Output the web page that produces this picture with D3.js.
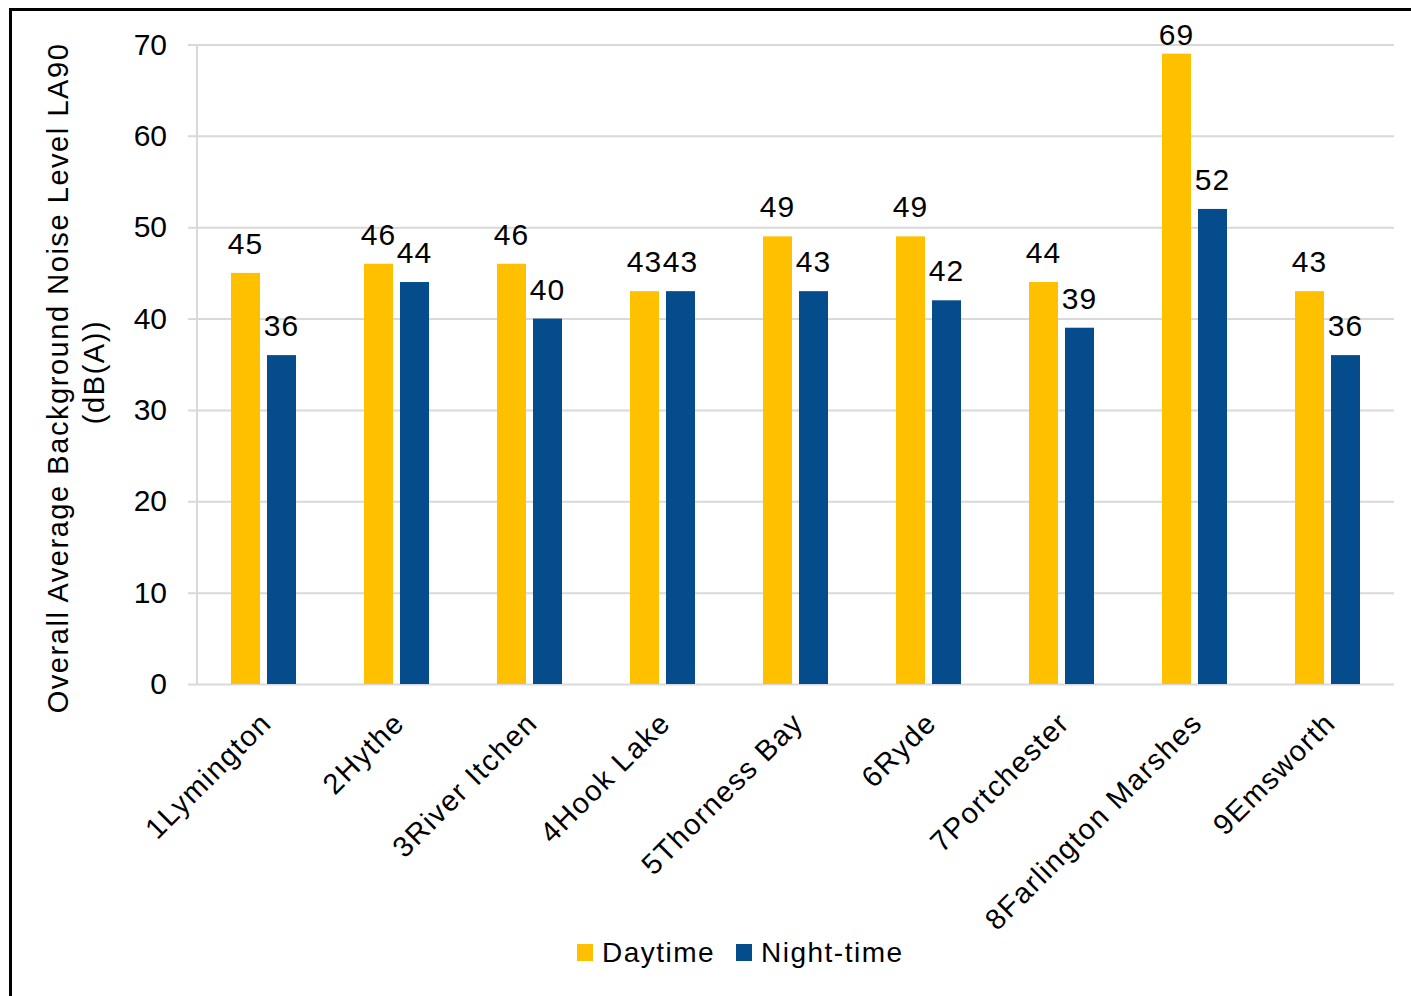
<!DOCTYPE html>
<html>
<head>
<meta charset="utf-8">
<script src="https://cdn.jsdelivr.net/npm/d3@7"></script>
<style>
  body { margin: 0; background: #fff; }
  text { font-family: "Liberation Sans", Arial, sans-serif; fill: #000; }
</style>
</head>
<body>
<script>
const categories = ["1Lymington", "2Hythe", "3River Itchen", "4Hook Lake", "5Thorness Bay",
  "6Ryde", "7Portchester", "8Farlington Marshes", "9Emsworth"];
const seriesNames = ["Daytime", "Night-time"];
const daytime = [45, 46, 46, 43, 49, 49, 44, 69, 43];
const nightTime = [36, 44, 40, 43, 43, 42, 39, 52, 36];
const yTicks = [0, 10, 20, 30, 40, 50, 60, 70];
const colors = ["#ffc000", "#044c8c"];

const width = 1411;
const height = 996;

const plotLeft = 197;
const plotRight = 1394;
const plotTop = 44.5;
const plotBottom = 684;

const svg = d3.select("body")
  .append("svg")
  .attr("width", width)
  .attr("height", height);

svg.append("rect")
  .attr("width", width)
  .attr("height", height)
  .attr("fill", "white");

// frame (only left and top edges are visible)
svg.append("line")
  .attr("x1", 10.5).attr("x2", 10.5)
  .attr("y1", 8).attr("y2", height)
  .attr("stroke", "#000").attr("stroke-width", 3);
svg.append("line")
  .attr("x1", 9).attr("x2", width)
  .attr("y1", 9.5).attr("y2", 9.5)
  .attr("stroke", "#000").attr("stroke-width", 3);

const x0 = d3.scaleBand()
  .domain(categories)
  .range([plotLeft, plotRight])
  .padding(0);

const x1 = d3.scaleBand()
  .domain(seriesNames)
  .range([34, 99])
  .paddingInner(0.194);

const y = d3.scaleLinear()
  .domain([0, 70])
  .range([plotBottom, plotTop]);

// gridlines + tick labels
const yAxis = d3.axisLeft(y)
  .tickValues(yTicks)
  .tickSizeInner(plotRight - 188)
  .tickSizeOuter(0)
  .tickPadding(21);

const gy = svg.append("g")
  .attr("transform", "translate(" + plotRight + ",0)")
  .call(yAxis);
gy.select(".domain").remove();
gy.selectAll(".tick line")
  .attr("stroke", "#d9d9d9")
  .attr("stroke-width", 2);
gy.selectAll(".tick text")
  .attr("font-size", 30)
  .attr("font-family", "Liberation Sans, Arial, sans-serif")
  .attr("fill", "#000");

// vertical axis line
svg.append("line")
  .attr("x1", plotLeft).attr("x2", plotLeft)
  .attr("y1", plotTop).attr("y2", plotBottom)
  .attr("stroke", "#d9d9d9")
  .attr("stroke-width", 2);

// bars
const rows = categories.map((c, i) => ({
  cat: c,
  values: [
    { key: seriesNames[0], value: daytime[i] },
    { key: seriesNames[1], value: nightTime[i] }
  ]
}));

const groups = svg.append("g")
  .selectAll("g")
  .data(rows)
  .join("g")
  .attr("transform", d => "translate(" + x0(d.cat) + ",0)");

groups.selectAll("rect")
  .data(d => d.values)
  .join("rect")
  .attr("x", d => x1(d.key))
  .attr("y", d => y(d.value))
  .attr("width", x1.bandwidth())
  .attr("height", d => y(0) - y(d.value))
  .attr("fill", (d, i) => colors[i]);

groups.selectAll("text.val")
  .data(d => d.values)
  .join("text")
  .attr("class", "val")
  .attr("x", d => x1(d.key) + x1.bandwidth() / 2)
  .attr("y", d => Math.max(y(d.value) - 19, 45))
  .attr("text-anchor", "middle")
  .attr("font-size", 30)
  .attr("letter-spacing", 1)
  .text(d => d.value);

// category labels
svg.append("g")
  .selectAll("text")
  .data(categories)
  .join("text")
  .attr("transform", d => "translate(" + (x0(d) + x0.bandwidth() / 2 - 1) + ",714) rotate(-45)")
  .attr("text-anchor", "end")
  .attr("dy", "0.52em")
  .attr("font-size", 29)
  .attr("letter-spacing", 1.5)
  .text(d => d);

// y axis title
const title = svg.append("text")
  .attr("transform", "rotate(-90)")
  .attr("text-anchor", "middle")
  .attr("font-size", 29)
  .attr("letter-spacing", 1.55);
title.append("tspan")
  .attr("x", -378)
  .attr("y", 68)
  .text("Overall Average Background Noise Level LA90");
title.append("tspan")
  .attr("x", -372)
  .attr("y", 104)
  .text("(dB(A))");

// legend
const legendX = [577, 736];
const legend = svg.append("g")
  .selectAll("g")
  .data(seriesNames)
  .join("g")
  .attr("transform", (d, i) => "translate(" + legendX[i] + ",944)");
legend.append("rect")
  .attr("width", 16)
  .attr("height", 17)
  .attr("fill", (d, i) => colors[i]);
legend.append("text")
  .attr("x", 25)
  .attr("y", 18)
  .attr("font-size", 28)
  .attr("letter-spacing", 1.5)
  .text(d => d);
</script>
</body>
</html>
